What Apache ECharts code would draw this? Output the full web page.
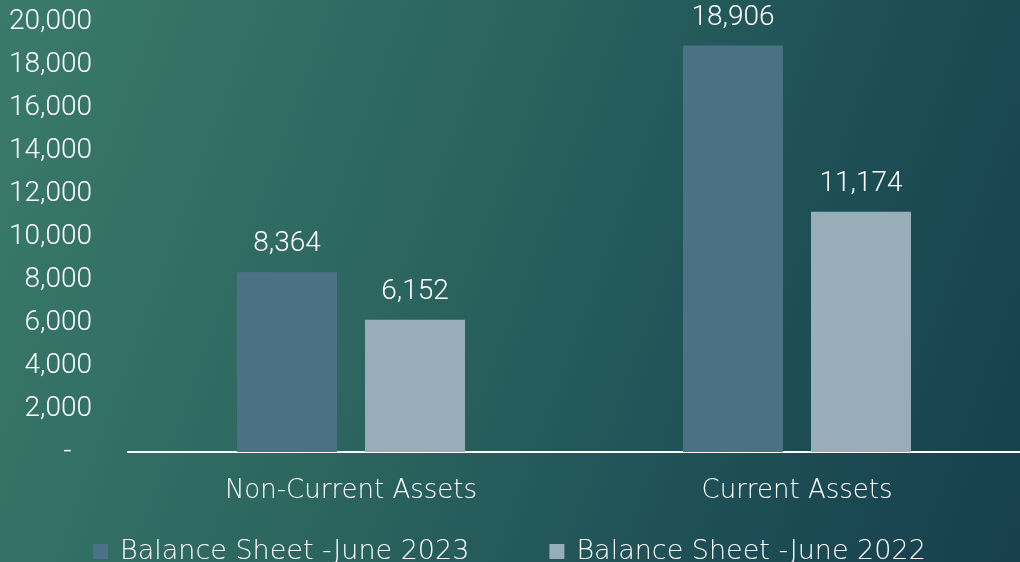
<!DOCTYPE html>
<html>
<head>
<meta charset="utf-8">
<script src="https://cdn.jsdelivr.net/npm/echarts@6/dist/echarts.min.js"></script>
<style>
  html, body { margin: 0; padding: 0; }
  #main {
    width: 1020px; height: 562px;
    background: linear-gradient(110deg, #3a7a6c 0%, #2c665f 40%, #1d4e56 75%, #173f4c 100%);
  }
</style>
</head>
<body>
<div id="main"></div>
<script>
// balance sheet data
var categories = ['Non-Current Assets', 'Current Assets'];
var seriesNames = ['Balance Sheet -June 2023', 'Balance Sheet -June 2022'];
var values2023 = [8364, 18906];
var values2022 = [6152, 11174];

var chart = echarts.init(document.getElementById('main'), null, { renderer: 'canvas' });

function fmt(v) {
  // accounting style: zero shows as a dash, padded like in excel
  if (v === 0) return '-\u00a0\u00a0\u00a0';
  return v.toLocaleString('en-US');
}

var labelStyle = {
  show: true,
  position: 'top',
  distance: 14,
  color: '#ffffff',
  fontFamily: 'Roboto',
  fontWeight: 300,
  fontSize: 28,
  formatter: function (p) { return fmt(p.value); }
};

var option = {
  animation: false,
  grid: { left: 128, right: -3, top: 22, bottom: 110, containLabel: false },
  legend: {
    left: 88,
    top: 533,
    itemWidth: 15,
    itemHeight: 15,
    itemGap: 80,
    icon: 'rect',
    textStyle: { color: '#ffffff', fontFamily: 'DejaVu Sans', fontWeight: 200, fontSize: 27, padding: [0, 0, 0, 7] },
    data: seriesNames
  },
  xAxis: {
    type: 'category',
    data: categories,
    axisLine: { lineStyle: { color: '#ffffff', width: 2 } },
    axisTick: { show: false },
    axisLabel: { color: '#ffffff', fontFamily: 'DejaVu Sans', fontWeight: 200, fontSize: 26, margin: 26 }
  },
  yAxis: {
    type: 'value',
    min: 0,
    max: 20000,
    interval: 2000,
    splitLine: { show: false },
    axisLine: { show: false },
    axisTick: { show: false },
    axisLabel: {
      color: '#ffffff', fontFamily: 'Roboto', fontWeight: 300, fontSize: 28, margin: 36,
      formatter: fmt
    }
  },
  series: [
    {
      name: seriesNames[0],
      type: 'bar',
      data: values2023,
      barWidth: 100,
      barGap: '28%',
      itemStyle: { color: '#4a7186' },
      label: labelStyle
    },
    {
      name: seriesNames[1],
      type: 'bar',
      data: values2022,
      barWidth: 100,
      itemStyle: { color: '#97adb8' },
      label: labelStyle
    }
  ]
};

chart.setOption(option);
</script>
</body>
</html>
